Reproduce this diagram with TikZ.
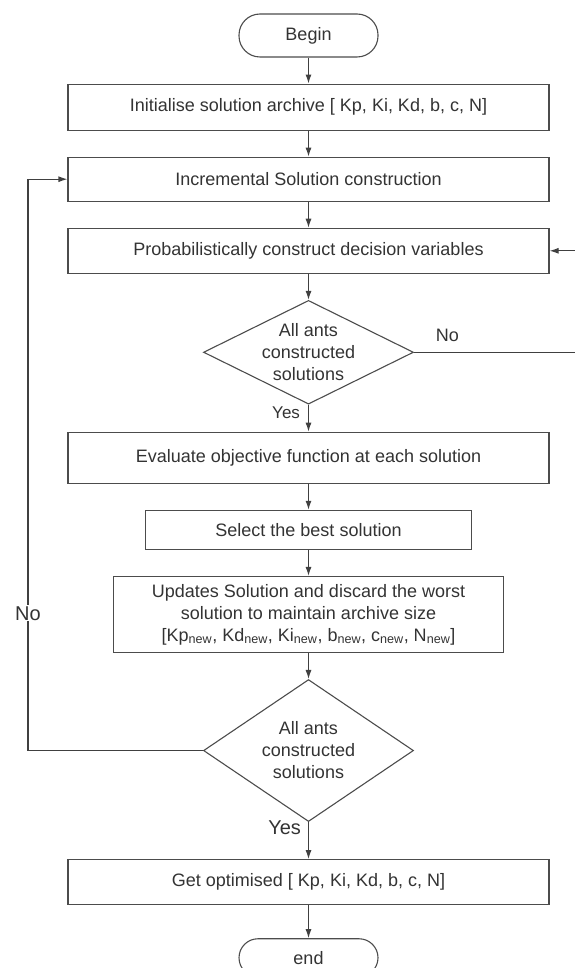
\documentclass[tikz,border=0pt]{standalone}
\usepackage{fontspec}
\setmainfont{Liberation Sans}
\usetikzlibrary{shapes,arrows.meta,positioning}

\begin{document}
\begin{tikzpicture}[x=1pt, y=1pt, node distance=26pt,
        font=\fontsize{18}{22}\selectfont,
        terminal/.style={rectangle, rounded corners=21pt, draw=black!70, line width=1.1pt, minimum width=139pt, minimum height=43pt, text=black!80},
        process/.style={rectangle, draw=black!70, line width=1.1pt, minimum width=481pt, minimum height=45pt, inner sep=4pt, align=center, text=black!80},
        decision/.style={diamond, draw=black!70, line width=1.1pt, aspect=2, inner sep=0pt, minimum width=210pt, minimum height=103pt, align=center, text=black!80},
        lbl/.style={text=black!80, inner sep=4pt},
        arrow/.style={-{Latex[length=9pt,width=6pt]}, draw=black!75, line width=1.1pt}]

    \useasboundingbox (0,0) rectangle (574,-968);

    \node[terminal] (begin) at (308.5,-35.5) {Begin};
    \node[process, below=of begin, minimum height=46pt] (init) {Initialise solution archive [ Kp, Ki, Kd, b, c, N]};
    \node[process, below=of init, minimum height=44pt] (incr) {Incremental Solution construction};
    \node[process, below=of incr] (prob) {Probabilistically construct decision variables};
    \node[decision, below=of prob] (d1) {All ants\\constructed\\solutions};
    \node[process, below=27pt of d1, minimum height=51pt] (eval) {Evaluate objective function at each solution};
    \node[process, below=of eval, minimum width=326pt, minimum height=39pt] (select) {Select the best solution};
    \node[process, below=of select, minimum width=390pt, minimum height=76pt] (update) {Updates Solution and discard the worst\\solution to maintain archive size\\{[}Kp\textsubscript{new}, Kd\textsubscript{new}, Ki\textsubscript{new}, b\textsubscript{new}, c\textsubscript{new}, N\textsubscript{new}]};
    \node[decision, below=of update, minimum height=142pt] (d2) {All ants\\constructed\\solutions};
    \node[process, below=37pt of d2] (get) {Get optimised [ Kp, Ki, Kd, b, c, N]};
    \node[terminal, below=33pt of get, minimum height=38pt, rounded corners=19pt] (end) {end};

    % loop ends outside the frame
    \coordinate (rside) at (590,0);
    \coordinate (lside) at (28,0);

    \draw[arrow] (begin) -- (init);
    \draw[arrow] (init) -- (incr);
    \draw[arrow] (incr) -- (prob);
    \draw[arrow] (prob) -- (d1);
    \draw[arrow] (d1) -- node[lbl, left=4pt, pos=0.3, font=\fontsize{17}{20}\selectfont] {Yes} (eval);
    \draw[arrow] (eval) -- (select);
    \draw[arrow] (select) -- (update);
    \draw[arrow] (update) -- (d2);
    \draw[arrow] (d2) -- node[lbl, left=3pt, pos=0.16, font=\fontsize{20}{24}\selectfont] {Yes} (get);
    \draw[arrow] (get) -- (end);
    \draw[arrow] (d1.east) -- node[lbl, above=6pt, pos=0.19] {No} (d1.east -| rside) |- (prob.east);
    \draw[arrow] (d2.west) -- (d2.west -| lside) -- node[lbl, pos=0.24, fill=white, inner sep=1pt, font=\fontsize{20}{24}\selectfont] {No} (incr.west -| lside) -- (incr.west);
\end{tikzpicture}
\end{document}
